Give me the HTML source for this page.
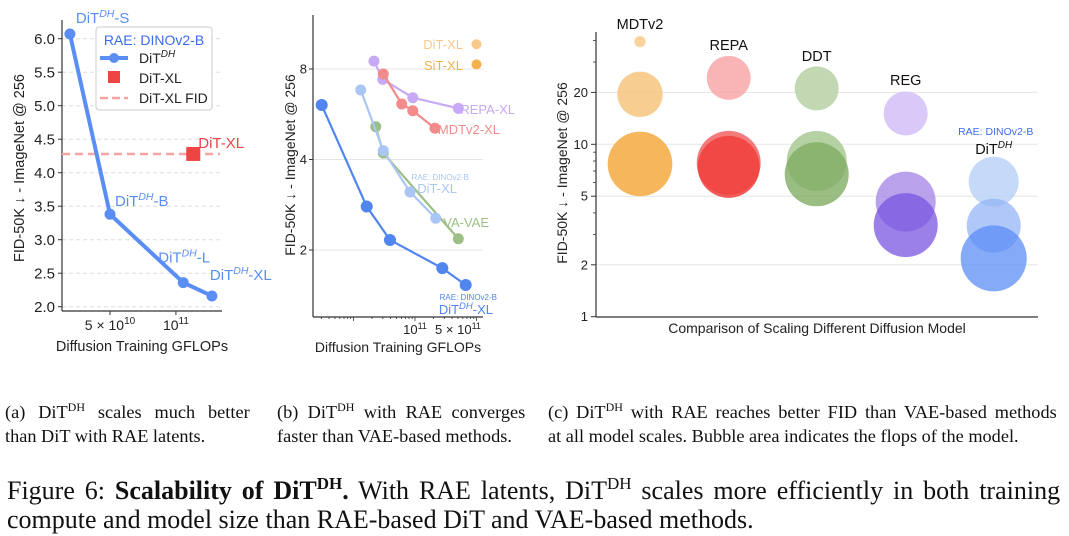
<!DOCTYPE html>
<html><head><meta charset="utf-8">
<style>
html,body{margin:0;padding:0;background:#fff;}
svg{display:block;font-family:"Liberation Sans",sans-serif;}
.serif{font-family:"Liberation Serif",serif;}
</style></head>
<body>
<svg id="fig" width="1069" height="536" viewBox="0 0 1069 536" xmlns="http://www.w3.org/2000/svg">
<g id="pa"></g>
<g id="pb"></g>
<g id="pc"></g>
<g class="serif" fill="#111">
 <text class="just" data-w="253" x="5" y="418" font-size="18.3">(a)  DiT<tspan font-size="12" dy="-7">DH</tspan><tspan dy="7"> scales much better</tspan></text>
 <text x="5" y="442" font-size="18.3">than DiT with RAE latents.</text>
 <text class="just" data-w="253" x="277" y="418" font-size="18.3">(b)  DiT<tspan font-size="12" dy="-7">DH</tspan><tspan dy="7"> with RAE converges</tspan></text>
 <text x="277" y="442" font-size="18.3">faster than VAE-based methods.</text>
 <text class="just" data-w="512" x="548" y="418" font-size="18.3">(c)  DiT<tspan font-size="12" dy="-7">DH</tspan><tspan dy="7"> with RAE reaches better FID than VAE-based methods</tspan></text>
 <text x="548" y="442" font-size="18.3">at all model scales. Bubble area indicates the flops of the model.</text>
 <text class="just" data-w="1053" x="7" y="499" font-size="26">Figure 6: <tspan font-weight="bold">Scalability of DiT</tspan><tspan font-weight="bold" font-size="17" dy="-10">DH</tspan><tspan font-weight="bold" dy="10">.</tspan> With RAE latents, DiT<tspan font-size="17" dy="-10">DH</tspan><tspan dy="10"> scales more efficiently in both training</tspan></text>
 <text x="7" y="528" font-size="26">compute and model size than RAE-based DiT and VAE-based methods.</text>
</g>
</svg>
<script>
// ---------- Panel A data ----------
const aLabels = ["S","B","L","XL"];
const aGflops = [3.28e10, 5.0e10, 1.08e11, 1.46e11];
const aFid = [6.07, 3.38, 2.36, 2.16];
const aDitXlGflops = [1.2e11];
const aDitXlFid = [4.28];
const aYTicks = [2.0,2.5,3.0,3.5,4.0,4.5,5.0,5.5,6.0];
// ---------- Panel B data ----------
const bDhX = [3.04e9, 1.64e10, 3.92e10, 2.78e11, 6.67e11];
const bDhY = [6.07, 2.79, 2.16, 1.74, 1.53];
const bRaeX = [1.31e10, 3.05e10, 8.3e10, 2.17e11];
const bRaeY = [6.81, 4.28, 3.12, 2.55];
const bVaX = [2.3e10, 3.05e10, 5.06e11];
const bVaY = [5.14, 4.2, 2.18];
const bRepaX = [2.15e10, 2.99e10, 9.2e10, 5.06e11];
const bRepaY = [8.5, 7.39, 6.42, 5.92];
const bMdtX = [3.05e10, 6.08e10, 9.2e10, 2.11e11];
const bMdtY = [7.70, 6.12, 5.81, 5.08];
const bRefX = [1.0e12, 1.0e12];
const bRefY = [9.67, 8.29];
const bYTicks = [2,4,8];
// ---------- Panel C data ----------
const cModels = ["MDTv2","REPA","DDT","REG","DiTDH"];
const cFid = [[39.4,19.5,7.69],[24.3,7.8,7.4],[21.1,8.0,6.7],[15.1,4.65,3.4],[6.07,3.37,2.18]];
const cSize = [[32,515,1043],[484,1024,961],[484,900,1024],[484,900,1024],[625,729,1089]];
const cYTicks = [1,2,5,10,20];

const NS="http://www.w3.org/2000/svg";
function mk(parent,tag,attrs,text){const e=document.createElementNS(NS,tag);for(const k in attrs)e.setAttribute(k,attrs[k]);if(text!==undefined)e.textContent=text;parent.appendChild(e);return e;}
const L=Math.log10;

// justify caption lines by word spacing
document.querySelectorAll('text.just').forEach(t=>{
 const w=+t.getAttribute('data-w');
 const nat=t.getComputedTextLength();
 const n=(t.textContent.match(/ /g)||[]).length;
 if(n>0&&w>nat)t.setAttribute('word-spacing',((w-nat)/n).toFixed(2));
});

// ===== Panel A =====
(function(){
 const g=document.getElementById('pa');
 const ya=v=>306.7-(v-2)*67;
 const xa=v=>110+(L(v)-L(5e10))*219;
 aYTicks.forEach(t=>{
  const gl=mk(g,'line',{x1:62,x2:222,y1:ya(t),y2:ya(t),stroke:'#ddd','stroke-dasharray':'4,3','stroke-width':1});
  
  mk(g,'line',{x1:58,x2:62,y1:ya(t),y2:ya(t),stroke:'#333'});
  const tl=mk(g,'text',{x:55,y:ya(t)+5.5,'font-size':15,'text-anchor':'end',fill:'#222'},t.toFixed(1));
  
 });
 mk(g,'line',{x1:62,x2:62,y1:20,y2:311,stroke:'#333','stroke-width':1.2,});
 mk(g,'line',{x1:62,x2:222,y1:311,y2:311,stroke:'#333','stroke-width':1.2,});
 [5e10,1e11].forEach(t=>mk(g,'line',{x1:xa(t),x2:xa(t),y1:311,y2:315,stroke:'#333'}));
 const t1=mk(g,'text',{x:xa(5e10),y:330,'font-size':14,'text-anchor':'middle',fill:'#222',});
 t1.innerHTML='5 × 10<tspan font-size="10" dy="-6">10</tspan>';
 const t2=mk(g,'text',{x:xa(1e11),y:330,'font-size':14,'text-anchor':'middle',fill:'#222',});
 t2.innerHTML='10<tspan font-size="10" dy="-6">11</tspan>';
 mk(g,'text',{x:142,y:351,'font-size':14.5,'text-anchor':'middle',fill:'#222',},'Diffusion Training GFLOPs');
 mk(g,'text',{x:0,y:0,'font-size':14.5,'text-anchor':'middle',fill:'#222',transform:'translate(24,168) rotate(-90)',},'FID-50K ↓ - ImageNet @ 256');
 mk(g,'line',{x1:62,x2:220,y1:ya(aDitXlFid[0]),y2:ya(aDitXlFid[0]),stroke:'#f7a3a3','stroke-width':2.5,'stroke-dasharray':'8,5',});
 const sq=xa(aDitXlGflops[0]);
 const s=mk(g,'rect',{x:sq-7,y:ya(aDitXlFid[0])-7,width:14,height:14,fill:'#ef4444'});
 
 mk(g,'text',{x:sq+5,y:ya(aDitXlFid[0])-6,'font-size':15,fill:'#ef4444',},'DiT-XL');
 const pts=aGflops.map((v,i)=>xa(v)+','+ya(aFid[i])).join(' ');
 mk(g,'polyline',{points:pts,fill:'none',stroke:'#5b8ef5','stroke-width':4,'stroke-linejoin':'round',});
 const off=[[6,-11],[5,-8],[-25,-20],[-2,-16]];
 aGflops.forEach((v,i)=>{
  const c=mk(g,'circle',{cx:xa(v),cy:ya(aFid[i]),r:5.5,fill:'#5b8ef5'});
  
  const t=mk(g,'text',{x:xa(v)+off[i][0],y:ya(aFid[i])+off[i][1],'font-size':15,fill:'#5b8ef5'});
  
  t.innerHTML='DiT<tspan font-size="10.5" font-style="italic" dy="-6">DH</tspan><tspan dy="6">-'+aLabels[i]+'</tspan>';
 });
 const lg=mk(g,'g',{});
 mk(lg,'rect',{x:96,y:27,width:116,height:83,rx:3,fill:'#fff','fill-opacity':0.85,stroke:'#ccc'});
 mk(lg,'text',{x:154,y:45,'font-size':14,'text-anchor':'middle',fill:'#3b6cf0'},'RAE: DINOv2-B');
 mk(lg,'line',{x1:100,x2:128,y1:58,y2:58,stroke:'#5b8ef5','stroke-width':4});
 mk(lg,'circle',{cx:114,cy:58,r:5,fill:'#5b8ef5'});
 const le=mk(lg,'text',{x:139,y:63,'font-size':14,fill:'#222',});
 le.innerHTML='DiT<tspan font-size="10" font-style="italic" dy="-6">DH</tspan>';
 mk(lg,'rect',{x:108,y:71,width:12,height:12,fill:'#ef4444'});
 mk(lg,'text',{x:139,y:83,'font-size':14,fill:'#222',},'DiT-XL');
 mk(lg,'line',{x1:100,x2:128,y1:98,y2:98,stroke:'#f7a3a3','stroke-width':2.5,'stroke-dasharray':'8,4'});
 mk(lg,'text',{x:139,y:103,'font-size':14,fill:'#222',},'DiT-XL FID');
})();

// ===== Panel B =====
(function(){
 const g=document.getElementById('pb');
 const yb=v=>250-(Math.log2(v)-1)*90.5;
 const xb=v=>415+(L(v)-11)*61.5;
 bYTicks.forEach(t=>{
  const gl=mk(g,'line',{x1:313,x2:483,y1:yb(t),y2:yb(t),stroke:'#e6e6e6','stroke-width':1});
  
  mk(g,'line',{x1:309,x2:313,y1:yb(t),y2:yb(t),stroke:'#333'});
  const tl=mk(g,'text',{x:307,y:yb(t)+4.5,'font-size':13,'text-anchor':'end',fill:'#222'},String(t));
  
 });
 for(let e=9;e<=12;e++)for(let m=1;m<10;m++){const v=m*Math.pow(10,e);const x=xb(v);if(x<314||x>483)continue;mk(g,'line',{x1:x,x2:x,y1:317,y2:m==1?321:319,stroke:'#333','stroke-width':0.8});}
 mk(g,'line',{x1:313,x2:313,y1:15,y2:317,stroke:'#333','stroke-width':1.2,});
 mk(g,'line',{x1:313,x2:483,y1:317,y2:317,stroke:'#333','stroke-width':1.2,});
 const t1=mk(g,'text',{x:xb(1e11),y:334,'font-size':13,'text-anchor':'middle',fill:'#222',});
 t1.innerHTML='10<tspan font-size="9" dy="-5">11</tspan>';
 const t2=mk(g,'text',{x:xb(5e11),y:334,'font-size':13,'text-anchor':'middle',fill:'#222',});
 t2.innerHTML='5 × 10<tspan font-size="9" dy="-5">11</tspan>';
 mk(g,'text',{x:398,y:352,'font-size':14,'text-anchor':'middle',fill:'#222',},'Diffusion Training GFLOPs');
 mk(g,'text',{x:0,y:0,'font-size':14,'text-anchor':'middle',fill:'#222',transform:'translate(295,165) rotate(-90)',},'FID-50K ↓ - ImageNet @ 256');
 function series(xs,ys,col,r,name,alpha){
  mk(g,'polyline',{points:xs.map((v,i)=>xb(v)+','+yb(ys[i])).join(' '),fill:'none',stroke:col,'stroke-width':2.2,'stroke-opacity':alpha,});
  xs.forEach((v,i)=>{const c=mk(g,'circle',{cx:xb(v),cy:yb(ys[i]),r:r,fill:col,'fill-opacity':alpha});
   });
 }
 series(bVaX,bVaY,'#9cbf85',5.5,'va-vae',1);
 series(bRaeX,bRaeY,'#aac6f7',5.5,'rae-dit-xl',1);
 series(bRepaX,bRepaY,'#c7a9f5',5.5,'repa-xl',1);
 series(bMdtX,bMdtY,'#f28b8b',5.5,'mdtv2-xl',1);
 series(bDhX,bDhY,'#5186f0',6,'dit-dh-xl',1);
 const rc=['#f8c98a','#f4b04f'];
 bRefX.forEach((v,i)=>{const c=mk(g,'circle',{cx:xb(v),cy:yb(bRefY[i]),r:5,fill:rc[i]});
  });
 const lab=(x,y,t,c,fs)=>{const e=mk(g,'text',{x:x,y:y,'font-size':fs||13,'text-anchor':'end',fill:c});e.innerHTML=t;return e;};
 lab(463,49,'DiT-XL','#f8c98a');
 lab(463,70,'SiT-XL','#f4b04f');
 lab(515,114,'REPA-XL','#c7a9f5');
 lab(500,134,'MDTv2-XL','#f28b8b');
 lab(469,180,'RAE: DINOv2-B','#aac6f7',8);
 lab(457,193,'DiT-XL','#aac6f7');
 lab(489,227,'VA-VAE','#9cbf85');
 lab(497,300,'RAE: DINOv2-B','#5186f0',8);
 lab(493,314,'DiT<tspan font-size="9.5" font-style="italic" dy="-5">DH</tspan><tspan dy="5">-XL</tspan>','#5186f0');
})();

// ===== Panel C =====
(function(){
 const g=document.getElementById('pc');
 const yc=v=>316.7-L(v)*172.4;
 const xs=[640,728.7,816.7,905.7,993.7];
 const cols=[['#f8c98a','#f6c47f','#f4a93f'],['#f7a3a3','#f05a5a','#f0403c'],['#b7d1a5','#a4c68d','#7fac63'],['#d4bff7','#a88be6','#7a55e0'],['#b7cff8','#8fb1f7','#5b8ef5']];
 const alph=[[0.8,0.85,0.85],[0.8,0.8,0.85],[0.85,0.8,0.8],[0.85,0.8,0.75],[0.8,0.7,0.75]];
 cYTicks.forEach(t=>{
  if(t>1){const gl=mk(g,'line',{x1:596,x2:1038,y1:yc(t),y2:yc(t),stroke:'#e6e6e6'});}
  mk(g,'line',{x1:591,x2:596,y1:yc(t),y2:yc(t),stroke:'#333'});
  const tl=mk(g,'text',{x:588,y:yc(t)+4.5,'font-size':13,'text-anchor':'end',fill:'#222'},String(t));
  
 });
 [3,4,6,7,8,9,30,40].forEach(t=>mk(g,'line',{x1:593,x2:596,y1:yc(t),y2:yc(t),stroke:'#333','stroke-width':0.8}));
 mk(g,'line',{x1:596,x2:596,y1:32,y2:317,stroke:'#333','stroke-width':1.2,});
 mk(g,'line',{x1:596,x2:1038,y1:317,y2:317,stroke:'#333','stroke-width':1.2,});
 mk(g,'text',{x:817,y:333,'font-size':14,'text-anchor':'middle',fill:'#222',},'Comparison of Scaling Different Diffusion Model');
 mk(g,'text',{x:0,y:0,'font-size':14,'text-anchor':'middle',fill:'#222',transform:'translate(567,173) rotate(-90)',},'FID-50K ↓ - ImageNet @ 256');
 cModels.forEach((m,i)=>{
  cFid[i].forEach((v,j)=>{
   const c=mk(g,'circle',{cx:xs[i],cy:yc(v),r:Math.sqrt(cSize[i][j]),fill:cols[i][j],'fill-opacity':alph[i][j]});
   
   
  });
 });
 const ly=[29,50,61,85,154];
 cModels.forEach((m,i)=>{
  const t=mk(g,'text',{x:xs[i],y:ly[i],'font-size':14.5,'text-anchor':'middle',fill:'#111'});
  
  t.innerHTML= m==='DiTDH' ? 'DiT<tspan font-size="10" font-style="italic" dy="-6">DH</tspan>' : m;
 });
 mk(g,'text',{x:xs[4]+2,y:135,'font-size':10.5,'text-anchor':'middle',fill:'#3b6cf0',},'RAE: DINOv2-B');
})();
</script>
</body></html>
